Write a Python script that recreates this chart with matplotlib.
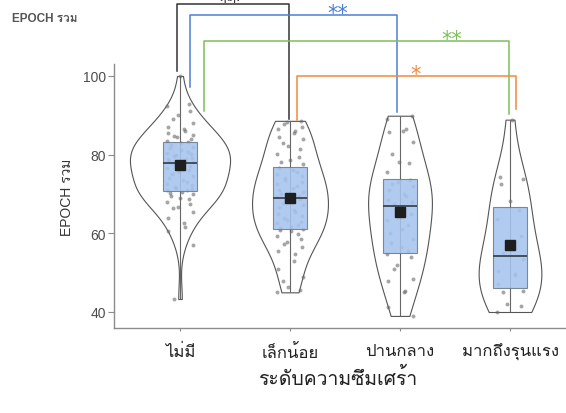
import numpy as np
import matplotlib
matplotlib.use("Agg")
import matplotlib.pyplot as plt

plt.rcParams["font.family"] = ["Liberation Sans", "Loma", "DejaVu Sans"]

# ---- data -------------------------------------------------------------
categories = ["ไม่มี", "เล็กน้อย", "ปานกลาง", "มากถึงรุนแรง"]

scores_none = [100, 92.9, 92.4, 91.2, 90, 89, 88, 87, 86.5, 86.1, 85.5, 85, 84.8, 84.4, 84, 83.6, 83.3,
               83, 82.4, 82, 81.8, 81.2, 80.6, 80.4, 80.2, 80, 79.6, 79.2, 79, 78.8, 78.5, 78.3, 78.1, 78,
               77.6, 77, 76.5, 76, 75.5, 75, 74.6, 74, 73.5, 73, 72.6, 72.2, 71.8, 71.5, 71.2, 71, 70.9,
               70.6, 70.2, 70, 69.5, 69, 68.7, 68, 67.4, 66.7, 66.5, 65.3, 64, 62.5, 61.6, 60.6, 57, 43.3]
scores_mild = [88.6, 88.2, 87.8, 87, 86.5, 86, 85.5, 84.5, 84, 83, 82.3, 81.4, 80.2, 79.4, 78.6, 78.1, 77.6,
               76.5, 76, 75.5, 75, 74.5, 74, 73.5, 73, 72.5, 72, 71.5, 71, 70.5, 70, 69.7, 69.4, 69.2,
               68.8, 68.3, 67.8, 67.2, 66.6, 66, 65.5, 65, 64.5, 64, 63.5, 63, 62.5, 62, 61.7, 61.4, 61.2,
               60.8, 60.6, 59.8, 59.2, 58.5, 57.8, 57.3, 56.5, 55.5, 54.7, 53, 50.9, 49, 47.9, 46.3, 45.5, 45]
scores_moderate = [89.9, 89, 86.5, 86.1, 85.8, 83.2, 80.2, 78.1, 78, 75.6,
                   73.5, 73, 72.5, 72, 71, 70, 69.5, 68.5, 68, 67.5,
                   66.5, 65, 63.5, 62, 61, 60, 58.5, 57.5, 56.5, 55.5,
                   54.7, 54, 52, 50.9, 48.3, 48, 45.4, 45, 41.2, 39]
scores_severe = [88.9, 74.2, 73.8, 72.5, 68.1, 66, 63.6, 59.4, 57, 55,
                 53.5, 50.5, 49.6, 49.4, 47, 45.4, 45.2, 42, 41.5, 40]
groups = [scores_none, scores_mild, scores_moderate, scores_severe]

# box summaries per group
box_q1 = [70.8, 61.1, 55.1, 46.0]
box_median = [77.9, 69.0, 67.0, 54.3]
box_q3 = [83.1, 76.8, 73.8, 66.8]
box_low = [43.3, 45.0, 39.0, 40.0]
box_high = [100.0, 88.6, 89.9, 88.9]
box_mean = [77.3, 69.1, 65.3, 57.1]

# pairwise comparisons: (group a, group b, label, colour)
comparisons = [
    (0, 1, "**", "#333333"),
    (0, 2, "**", "#4a7fd6"),
    (0, 3, "**", "#7dbf5a"),
    (1, 3, "*", "#f08a3c"),
]

# ---- figure -----------------------------------------------------------
W, H = 566, 414
fig = plt.figure(figsize=(W / 100, H / 100), dpi=100)
ax = fig.add_axes([114 / W, (H - 329) / H, (576 - 114) / W, (329 - 65) / H])
ax.set_xlim(-0.6, 3.6)
ax.set_ylim(35.93, 103.05)

positions = np.arange(len(groups))
violin_widths = [0.91, 0.69, 0.58, 0.57]

for pos, vals, vw in zip(positions, groups, violin_widths):
    v = np.asarray(vals, dtype=float)
    n = len(v)
    sd = v.std(ddof=1)
    iqr = np.subtract(*np.percentile(v, [75, 25]))
    bw = 1.2 * 0.9 * min(sd, iqr / 1.34) * n ** -0.2
    parts = ax.violinplot([v], positions=[pos], widths=vw, showextrema=False,
                          bw_method=bw / sd, points=200)
    for body in parts["bodies"]:
        body.set_facecolor("white")
        body.set_edgecolor("#555555")
        body.set_linewidth(0.8)
        body.set_alpha(1)
        body.set_zorder(1)

# whisker line through each violin
ax.vlines(positions, box_low, box_high, color="#666666", lw=0.8, zorder=2)

# jittered points
for pos, vals in zip(positions, groups):
    k = np.arange(len(vals))
    offs = 0.12 * np.sin(k * 2.399 + pos)
    ax.scatter(pos + offs, vals, s=8, color="#6a6a6a", alpha=0.6, lw=0, zorder=3)

# boxes
stats = []
for i in range(len(groups)):
    stats.append(dict(q1=box_q1[i], med=box_median[i], q3=box_q3[i],
                      whislo=box_q1[i], whishi=box_q3[i], mean=box_mean[i], fliers=[]))
ax.bxp(stats, positions=positions, widths=0.31, patch_artist=True,
       showmeans=True, showcaps=False, showfliers=False,
       boxprops=dict(facecolor="#a7c4ee", edgecolor="#6e7a8a", linewidth=0.8, alpha=0.88, zorder=4),
       medianprops=dict(color="#3d4450", linewidth=1.3, zorder=5),
       whiskerprops=dict(linewidth=0),
       meanprops=dict(marker="s", markersize=6.5, markerfacecolor="#1e1e1e",
                      markeredgecolor="#1e1e1e", zorder=6),
       manage_ticks=False)

# significance brackets
bracket_x = [(-0.03, 0.99), (0.09, 1.97), (0.22, 2.99), (1.06, 3.05)]
bracket_top = [118.3, 115.6, 108.9, 100.0]
bracket_feet = [(101.3, 89.0), (97.2, 90.8), (91.0, 90.3), (88.8, 91.6)]
label_x = [0.45, 1.43, 2.47, 2.14]
for (a, b, lab, col), (x0, x1), top, (f0, f1), lx in zip(comparisons, bracket_x, bracket_top,
                                                         bracket_feet, label_x):
    ax.plot([x0, x0, x1, x1], [f0, top, top, f1], color=col, lw=1.1, clip_on=False, zorder=7)
    ax.text(lx, top - 1.1, lab, color=col, fontsize=15, ha="center", va="baseline",
            family="DejaVu Sans", clip_on=False)

# axes styling
for s in ["top", "right"]:
    ax.spines[s].set_visible(False)
for s in ["left", "bottom"]:
    ax.spines[s].set_color("#8c8c8c")
    ax.spines[s].set_linewidth(1.0)
ax.set_yticks([40, 60, 80, 100])
ax.tick_params(axis="y", length=4, color="#8c8c8c", labelcolor="#4d4d4d", labelsize=10, pad=2)
ax.set_xticks(positions)
ax.set_xticklabels(categories)
ax.tick_params(axis="x", length=2, color="#8c8c8c", labelcolor="#222222", labelsize=12, pad=9)
ax.set_ylabel("EPOCH รวม", fontsize=10, color="#333333", labelpad=6)

fig.text(338 / W, 1 - 378 / H, "ระดับความซึมเศร้า", fontsize=14, color="#222222",
         ha="center", va="center")
fig.text(12 / W, 1 - 19 / H, "EPOCH รวม", fontsize=8.5, fontweight="bold", color="#555555",
         ha="left", va="center")

fig.savefig("out.png", dpi=100)
